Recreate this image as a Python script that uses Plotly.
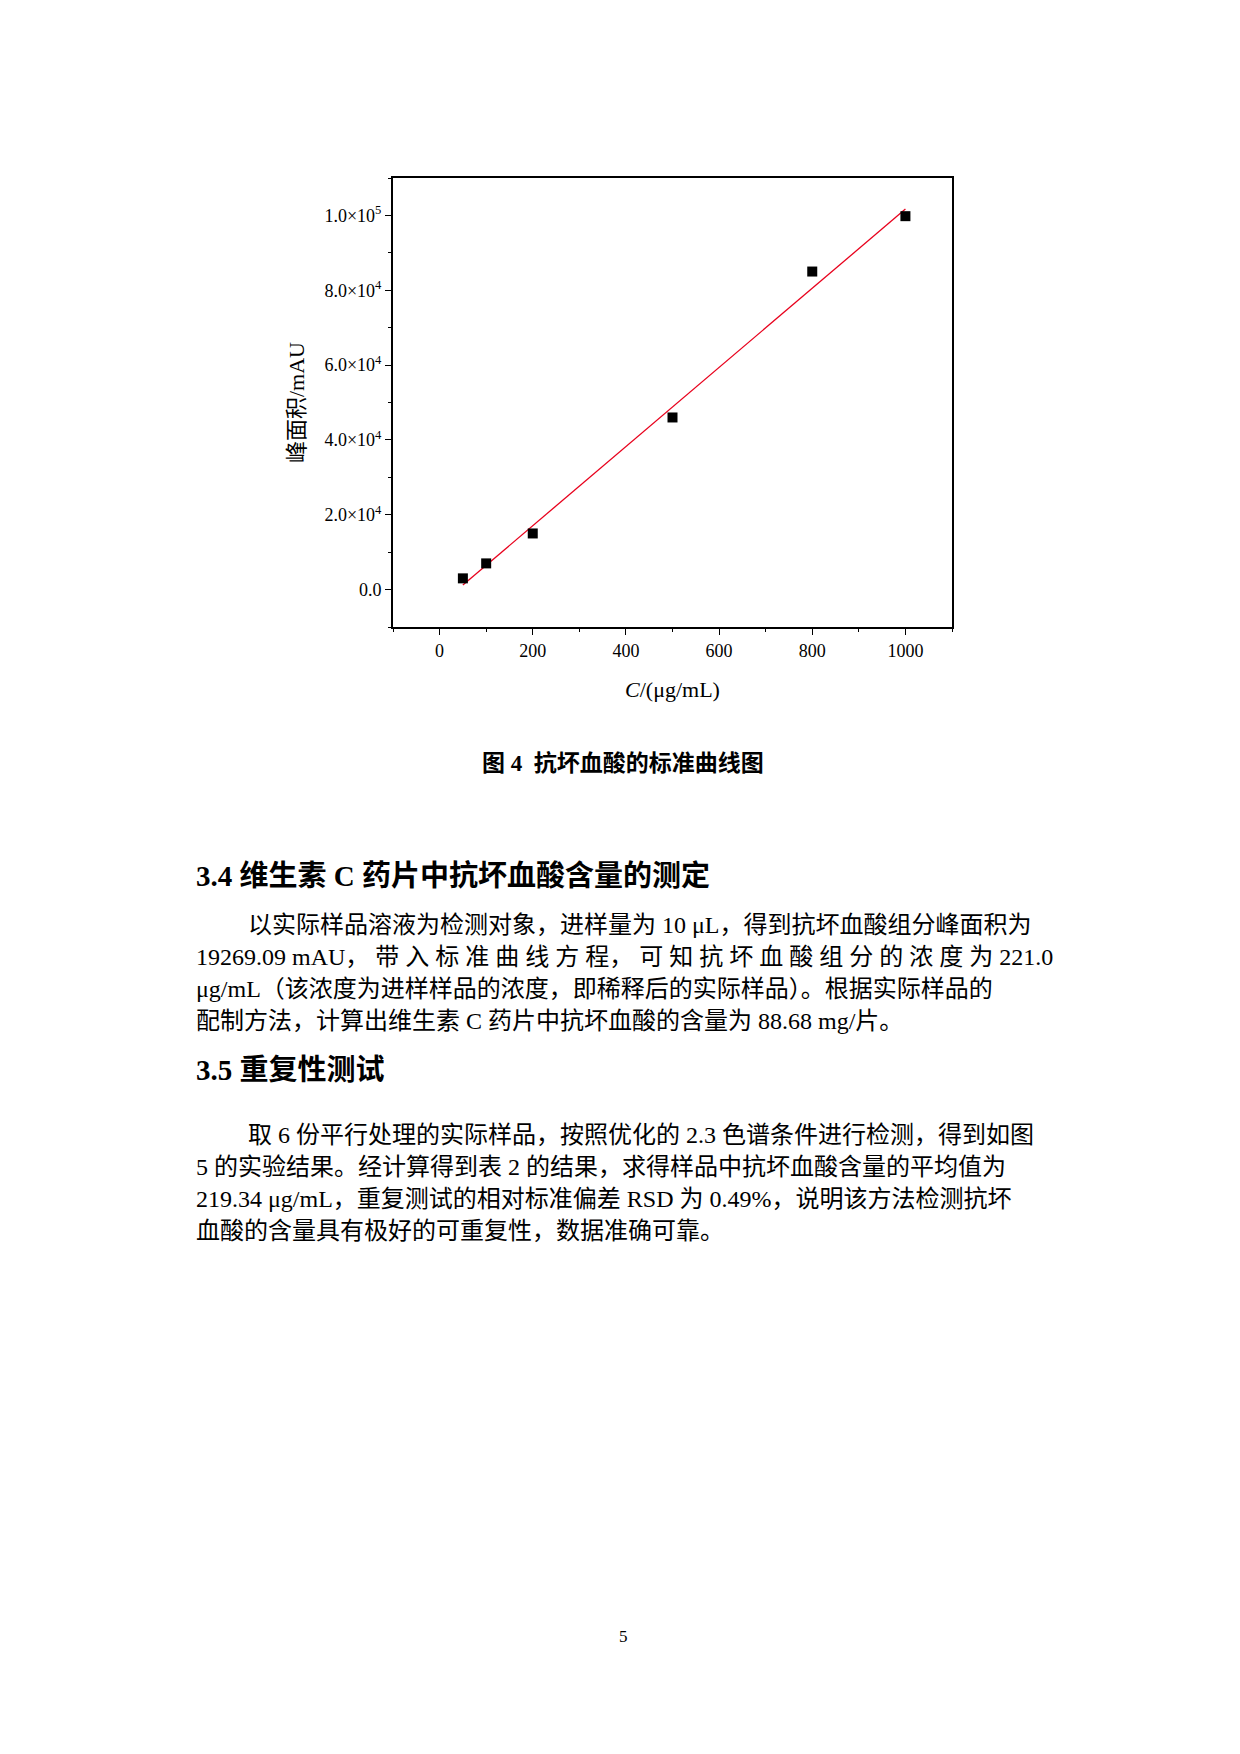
import numpy as np
import plotly.graph_objects as go

conc = [50, 100, 200, 500, 800, 1000]
area = [3000, 7000, 15000, 46000, 85000, 99800]
y_tickvals = [0, 20000, 40000, 60000, 80000, 100000]
y_ticktext = ["0.0", "2.0×10<sup>4</sup>", "4.0×10<sup>4</sup>", "6.0×10<sup>4</sup>",
              "8.0×10<sup>4</sup>", "1.0×10<sup>5</sup>"]
x_tickvals = [0, 200, 400, 600, 800, 1000]

W, H = 1240, 1754
SERIF = "Times New Roman, Liberation Serif, Noto Sans CJK SC"

slope, icpt = np.polyfit(conc, area, 1)
fit_x = [conc[0], conc[-1]]
fit_y = [slope * v + icpt for v in fit_x]

fig = go.Figure()
fig.add_trace(go.Scatter(x=fit_x, y=fit_y, mode="lines",
                         line=dict(color="#e8001c", width=1.3), showlegend=False))
fig.add_trace(go.Scatter(x=conc, y=area, mode="markers",
                         marker=dict(symbol="square", size=10, color="black"), showlegend=False))

axis_common = dict(showline=True, linecolor="black", linewidth=2, mirror=True,
                   ticks="outside", ticklen=6, tickcolor="black", showgrid=False,
                   zeroline=False, tickfont=dict(family=SERIF, size=18, color="black"),
                   minor=dict(ticks="outside", ticklen=3, tickcolor="black"))

fig.update_xaxes(range=[-100, 1100], tickvals=x_tickvals, domain=[385 / W, 944 / W],
                 minor_dtick=100,
                 title=dict(text="<i>C</i>/(μg/mL)", font=dict(family=SERIF, size=22, color="black"),
                            standoff=22), **axis_common)
fig.update_yaxes(range=[-10000, 110000], tickvals=y_tickvals, ticktext=y_ticktext,
                 domain=[1 - 619 / H, 1 - 170 / H], minor_dtick=10000,
                 title=dict(text="峰面积/mAU", font=dict(family=SERIF, size=22, color="black"),
                            standoff=14), **axis_common)


def text(s, x, y, size=24, bold=False, anchor="left"):
    fig.add_annotation(text=f"<b>{s}</b>" if bold else s, x=x / W, y=1 - y / H,
                       xref="paper", yref="paper", xanchor=anchor, yanchor="middle",
                       showarrow=False, font=dict(family=SERIF, size=size, color="black"))


text("图 4  抗坏血酸的标准曲线图", 615, 755, size=23, bold=True, anchor="center")
text("3.4 维生素 C 药片中抗坏血酸含量的测定", 186, 868, size=29, bold=True)
para1 = ["以实际样品溶液为检测对象，进样量为 10 μL，得到抗坏血酸组分峰面积为",
         "19269.09 mAU， 带 入 标 准 曲 线 方 程， 可 知 抗 坏 血 酸 组 分 的 浓 度 为 221.0",
         "μg/mL（该浓度为进样样品的浓度，即稀释后的实际样品）。根据实际样品的",
         "配制方法，计算出维生素 C 药片中抗坏血酸的含量为 88.68 mg/片。"]
for i, s in enumerate(para1):
    text(s, 238 if i == 0 else 186, 917 + i * 32)
text("3.5 重复性测试", 186, 1062, size=29, bold=True)
para2 = ["取 6 份平行处理的实际样品，按照优化的 2.3 色谱条件进行检测，得到如图",
         "5 的实验结果。经计算得到表 2 的结果，求得样品中抗坏血酸含量的平均值为",
         "219.34 μg/mL，重复测试的相对标准偏差 RSD 为 0.49%，说明该方法检测抗坏",
         "血酸的含量具有极好的可重复性，数据准确可靠。"]
for i, s in enumerate(para2):
    text(s, 238 if i == 0 else 186, 1127 + i * 32)
text("5", 615, 1628, size=17, anchor="center")

fig.update_layout(width=W, height=H, margin=dict(l=0, r=0, t=0, b=0),
                  paper_bgcolor="white", plot_bgcolor="white")
fig.write_html("out.html")
